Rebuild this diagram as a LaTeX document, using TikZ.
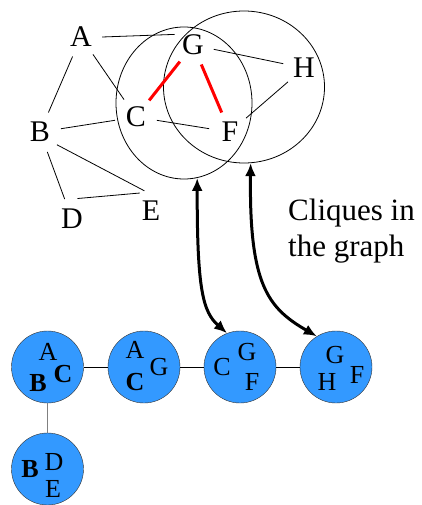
\documentclass[tikz,border=0pt]{standalone}
\usepackage{fontspec}
\setmainfont{Liberation Serif}
\usetikzlibrary{shapes.geometric,arrows.meta}
\definecolor{clqblue}{RGB}{51,153,255}

\begin{document}
\begin{tikzpicture}[x=1pt,y=-1pt,
  vtx/.style={circle,minimum size=42pt,inner sep=0pt,font=\fontsize{30}{36}\selectfont},
  edg/.style={line width=0.8pt},
  redg/.style={red,line width=3pt},
  ring/.style={ellipse,draw,line width=0.8pt,inner sep=0pt},
  clq/.style={circle,draw=black!80,fill=clqblue,minimum size=72pt,inner sep=0pt},
  sml/.style={inner sep=0pt,font=\fontsize{26}{28}\selectfont},
  clqarrow/.style={line width=3pt,{Latex[length=13pt,width=11pt]}-{Latex[length=13pt,width=11pt]}}]
\useasboundingbox (0,0) rectangle (422,505);
% the graph
\node[vtx] (A) at (81,37) {A};
\node[vtx] (G) at (193,45) {G};
\node[vtx] (H) at (304,68) {H};
\node[vtx] (B) at (40,132) {B};
\node[vtx] (C) at (136,117) {C};
\node[vtx] (F) at (230,132) {F};
\node[vtx] (D) at (72,219) {D};
\node[vtx] (E) at (151,211) {E};
\node[ring,minimum width=136pt,minimum height=152pt] (lc) at (184,103) {};
\node[ring,minimum width=161pt,minimum height=152pt] (rc) at (244,87) {};
\draw[edg] (A.0) -- (G.150);
\draw[edg] (A) -- (B);
\draw[edg] (A) -- (C);
\draw[edg] (B) -- (C);
\draw[edg] (C) -- (F);
\draw[edg] (G) -- (H);
\draw[edg] (H) -- (F);
\draw[edg] (B.-37) -- (E.108);
\draw[edg] (B) -- (D);
\draw[edg] (D.75) -- (E.122);
\draw[redg] (C) -- (G);
\draw[redg] (G) -- (F);
\node[anchor=north west,align=left,inner sep=0pt,font=\fontsize{31}{36}\selectfont] (txt) at (288,199) {Cliques in\\the graph};
% the clique tree
\node[clq] (k1) at (47.5,367) {};
\node[clq] (k2) at (144,367) {};
\node[clq] (k3) at (240,367) {};
\node[clq] (k4) at (336,367) {};
\node[clq] (k5) at (47.5,469) {};
\draw[edg] (k1) -- (k2);
\draw[edg] (k2) -- (k3);
\draw[edg] (k3) -- (k4);
\draw[edg,black!50,line width=1.2pt] (k1) -- (k5);
\foreach \c/\dx/\dy/\t [count=\i] in {%
  k1/0.5/-15/A,k1/-9.5/16/\textbf{B},k1/15.5/7/\textbf{C},
  k2/-9/-17/A,k2/-9/15/\textbf{C},k2/15/0/G,
  k3/-18/0/C,k3/7/-15/G,k3/12/15/F,
  k4/-1/-12/G,k4/-9/15/H,k4/21/8/F,
  k5/-17.5/0/\textbf{B},k5/6.5/-7/D,k5/5.5/20/E} {
  \node[sml] (t\i) at ([shift={(\dx,\dy)}]\c) {\t};
}
\draw[clqarrow] (lc.-80) .. controls (197,290) and (203,312) .. (k3.111);
\draw[clqarrow] (rc.-85) .. controls (249,285) and (268,308) .. (k4.122);
\end{tikzpicture}
\end{document}
